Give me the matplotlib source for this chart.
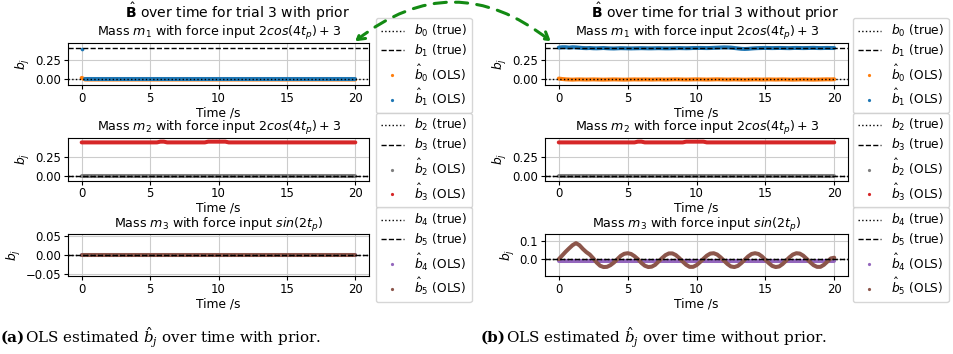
import numpy as np
import matplotlib
matplotlib.use("Agg")
import matplotlib.pyplot as plt
from matplotlib.lines import Line2D
from matplotlib.patches import FancyArrowPatch

W, H = 954, 354

# time grid of the OLS estimates (s)
t = np.linspace(0, 20, 81)

# true parameter values
b_true = [0.0, 0.4, 0.0, 0.0, 0.0, 0.0]

# OLS estimates, with prior
b0_hat_prior = [0.02] + [0.0] * 80
b1_hat_prior = [0.39] + [0.0] * 80
b2_hat_prior = [0.0] * 81
b3_hat_prior = [0.44] * 23 + [0.45] * 2 + [0.44] * 12 + [0.45] * 6 + [0.44] * 38
b4_hat_prior = [0.0] * 81
b5_hat_prior = [0.0] * 81

# OLS estimates, without prior
b0_hat_free = [
    0.012, 0.006, 0.002, 0.0, -0.002, 0.0, 0.001, 0.0,
    -0.001, 0.0, 0.001, 0.0, -0.001, -0.002, -0.001, 0.0,
    0.001, 0.0, -0.001, -0.002, -0.001, 0.0, 0.001, 0.0,
    0.0, 0.001, 0.0, -0.001, 0.0, 0.001, 0.0, -0.001,
    0.0, 0.001, 0.002, 0.001, 0.0, -0.001, 0.0, 0.001,
    0.002, 0.001, 0.0, -0.001, 0.0, 0.001, 0.002, 0.001,
    0.0, -0.001, 0.0, 0.001, 0.0, -0.001, -0.002, -0.001,
    0.0, 0.001, 0.0, -0.001, 0.0, 0.001, 0.0, -0.001,
    0.0, 0.001, 0.0, -0.001, -0.002, -0.001, 0.0, 0.001,
    0.0, -0.001, -0.002, -0.001, 0.0, 0.001, 0.002, 0.001,
    0.003]
b1_hat_free = [
    0.405, 0.41, 0.41, 0.405, 0.41, 0.408, 0.404, 0.40,
    0.398, 0.40, 0.397, 0.396, 0.398, 0.40, 0.397, 0.395,
    0.394, 0.396, 0.398, 0.397, 0.396, 0.395, 0.396, 0.397,
    0.398, 0.397, 0.396, 0.396, 0.397, 0.398, 0.397, 0.396,
    0.396, 0.397, 0.398, 0.399, 0.398, 0.397, 0.398, 0.40,
    0.40, 0.401, 0.40, 0.399, 0.40, 0.402, 0.404, 0.406,
    0.408, 0.407, 0.405, 0.40, 0.395, 0.39, 0.388, 0.39,
    0.394, 0.397, 0.399, 0.40, 0.401, 0.40, 0.399, 0.40,
    0.401, 0.40, 0.399, 0.398, 0.40, 0.401, 0.40, 0.399,
    0.40, 0.401, 0.402, 0.40, 0.399, 0.40, 0.401, 0.40,
    0.40]
b2_hat_free = [0.0] * 81
b3_hat_free = [0.44] * 23 + [0.45] * 2 + [0.44] * 12 + [0.45] * 6 + [0.44] * 38
b4_hat_free = [-0.009] * 81
b5_hat_free = [
    0.0, 0.02, 0.04, 0.058, 0.075, 0.086, 0.075, 0.055,
    0.038, 0.025, 0.005, -0.018, -0.035, -0.042, -0.041, -0.032,
    -0.018, 0.0, 0.018, 0.029, 0.032, 0.028, 0.016, 0.0,
    -0.020, -0.035, -0.042, -0.040, -0.030, -0.012, 0.006, 0.022,
    0.031, 0.031, 0.022, 0.006, -0.013, -0.030, -0.041, -0.041,
    -0.032, -0.016, 0.002, 0.019, 0.030, 0.032, 0.025, 0.010,
    -0.008, -0.026, -0.039, -0.042, -0.036, -0.021, -0.003, 0.015,
    0.028, 0.032, 0.028, 0.015, -0.003, -0.021, -0.036, -0.042,
    -0.039, -0.026, -0.008, 0.010, 0.025, 0.032, 0.030, 0.019,
    0.002, -0.016, -0.032, -0.041, -0.041, -0.030, -0.013, 0.004,
    0.008]

colors = ["tab:orange", "tab:blue", "tab:gray", "tab:red", "tab:purple", "tab:brown"]
panel_titles = [r"Mass $m_1$ with force input $2cos(4t_p) + 3$",
                r"Mass $m_2$ with force input $2cos(4t_p) + 3$",
                r"Mass $m_3$ with force input $sin(2t_p)$"]

plt.rcParams["font.size"] = 8.8

fig = plt.figure(figsize=(W / 100, H / 100), dpi=100)


def px_box(x0, y0, x1, y1):
    return [x0 / W, 1 - y1 / H, (x1 - x0) / W, (y1 - y0) / H]


def estimate(ax, y, c):
    # dense OLS samples drawn as a thick band; isolated jumps are left as dots
    y = np.asarray(y, dtype=float)
    band = y.copy()
    jump = np.abs(np.diff(y)) > 0.1
    band[:-1][jump] = np.nan
    ax.plot(t, band, color=c, lw=2.9, solid_capstyle="round", zorder=2)
    lone = np.isnan(band)
    ax.scatter(t[lone], y[lone], s=7, color=c, zorder=2, linewidths=0)


rows_y = [(42.5, 85), (137.5, 180.5), (234, 276)]
legend_top = [18, 112.5, 207]


def draw_side(x0, x1, leg_x, estimates, ylims, yticks, yfmt):
    for k in range(3):
        ax = fig.add_axes(px_box(x0, rows_y[k][0], x1, rows_y[k][1]))
        i, j = 2 * k, 2 * k + 1
        estimate(ax, estimates[i], colors[i])
        estimate(ax, estimates[j], colors[j])
        ax.axhline(b_true[i], color="black", ls=":", lw=1, zorder=3)
        ax.axhline(b_true[j], color="black", ls="--", lw=1, zorder=3)
        ax.set_xlim(-1, 21)
        ax.set_ylim(*ylims[k])
        ax.set_yticks(yticks[k])
        ax.set_yticklabels([yfmt[k].format(v).replace("-", "\u2212") for v in yticks[k]])
        ax.set_xticks([0, 5, 10, 15, 20])
        ax.grid(True, color="#cccccc", lw=0.8)
        ax.set_axisbelow(True)
        ax.set_title(panel_titles[k], fontsize=9.1, pad=3)
        ax.set_ylabel("$b_j$", labelpad=2)
        ax.set_xlabel("Time /s", labelpad=1)
        ax.tick_params(length=3, pad=2, labelsize=8.4)
        handles = [
            Line2D([], [], color="black", ls=":", lw=1),
            Line2D([], [], color="black", ls="--", lw=1),
            Line2D([], [], color=colors[i], ls="", marker="o", ms=2.3, mew=0),
            Line2D([], [], color=colors[j], ls="", marker="o", ms=2.3, mew=0),
        ]
        labels = [f"$b_{i}$ (true)", f"$b_{j}$ (true)",
                  f"$\\hat{{b}}_{i}$ (OLS)", f"$\\hat{{b}}_{j}$ (OLS)"]
        ax.legend(handles, labels, loc="upper left",
                  bbox_to_anchor=(leg_x / W, 1 - legend_top[k] / H),
                  bbox_transform=fig.transFigure, borderaxespad=0,
                  labelspacing=0.3, handlelength=1.9, handletextpad=0.8,
                  fontsize=8.8, borderpad=0.4)


draw_side(68, 369, 376,
          [b0_hat_prior, b1_hat_prior, b2_hat_prior, b3_hat_prior, b4_hat_prior, b5_hat_prior],
          [(-0.07, 0.47), (-0.066, 0.505), (-0.055, 0.055)],
          [[0.0, 0.25], [0.0, 0.25], [-0.05, 0.0, 0.05]],
          ["{:.2f}", "{:.2f}", "{:.2f}"])
draw_side(545, 848, 853,
          [b0_hat_free, b1_hat_free, b2_hat_free, b3_hat_free, b4_hat_free, b5_hat_free],
          [(-0.07, 0.47), (-0.066, 0.505), (-0.09, 0.135)],
          [[0.0, 0.25], [0.0, 0.25], [0.0, 0.1]],
          ["{:.2f}", "{:.2f}", "{:.1f}"])

fig.text(238 / W, 1 - 12 / H, r"$\hat{\mathbf{B}}$ over time for trial 3 with prior",
         ha="center", va="center", fontsize=10.1)
fig.text(715 / W, 1 - 12 / H, r"$\hat{\mathbf{B}}$ over time for trial 3 without prior",
         ha="center", va="center", fontsize=10.1)

# captions
cap_y = 1 - 338 / H
fig.text(1 / W, cap_y, "(a)", ha="left", va="center", family="DejaVu Serif",
         fontsize=10.9, weight="bold")
fig.text(25 / W, cap_y, r"OLS estimated $\hat{b}_j$ over time with prior.",
         ha="left", va="center", family="DejaVu Serif", fontsize=10.9,
         math_fontfamily="dejavuserif")
fig.text(481 / W, cap_y, "(b)", ha="left", va="center", family="DejaVu Serif",
         fontsize=10.9, weight="bold")
fig.text(506 / W, cap_y, r"OLS estimated $\hat{b}_j$ over time without prior.",
         ha="left", va="center", family="DejaVu Serif", fontsize=10.9,
         math_fontfamily="dejavuserif")

# green link between the two b1 panels
arrow = FancyArrowPatch((353 / W, 1 - 43 / H), (553 / W, 1 - 43 / H),
                        transform=fig.transFigure,
                        arrowstyle="<->,head_length=5,head_width=3",
                        connectionstyle="arc3,rad=-0.4", color="#138a13", lw=2.2,
                        ls=(0, (4, 3)), zorder=10)
fig.patches.append(arrow)

fig.savefig("out.png", dpi=100)
